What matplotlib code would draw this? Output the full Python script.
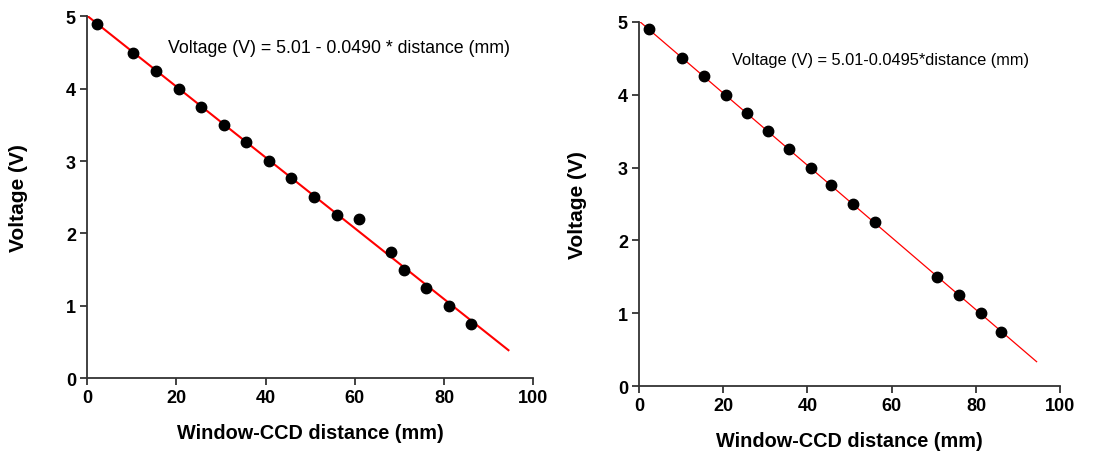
import matplotlib.pyplot as plt
import numpy as np

plt.rcParams['font.family'] = ['Liberation Sans', 'DejaVu Sans']

# Data
dist_a = [2.3, 10.2, 15.4, 20.6, 25.6, 30.6, 35.5, 40.8, 45.6, 50.8, 56.0, 61.0, 68.1, 70.9, 75.9, 81.1, 85.9]
volt_a = [4.90, 4.50, 4.25, 3.99, 3.75, 3.50, 3.26, 3.00, 2.76, 2.50, 2.25, 2.20, 1.74, 1.50, 1.25, 1.00, 0.75]

dist_b = [2.4, 10.2, 15.4, 20.6, 25.6, 30.6, 35.5, 40.8, 45.6, 50.8, 56.1, 70.8, 76.0, 81.2, 85.9]
volt_b = [4.90, 4.50, 4.25, 3.99, 3.75, 3.50, 3.26, 3.00, 2.76, 2.50, 2.25, 1.50, 1.25, 1.00, 0.75]

# fit lines
fit_a = (5.01, 0.0490)
fit_b = (5.01, 0.0495)
fit_end = 94.4

fig = plt.figure(figsize=(11.16, 4.52), dpi=100)
ax1 = fig.add_axes([0.078, 0.1615, 0.400, 0.800])
ax2 = fig.add_axes([0.5726, 0.1432, 0.3774, 0.8066])

def setup(ax, dist, volt, fit, text, lw, tx, ty, tsize, ypad):
    xf = np.array([0, fit_end])
    ax.plot(xf, fit[0] - fit[1]*xf, color='red', linewidth=lw, zorder=2)
    ax.plot(dist, volt, 'o', color='black', markersize=7.5, zorder=3)
    ax.set_xlim(0, 100)
    ax.set_ylim(0, 5)
    ax.set_xticks([0, 20, 40, 60, 80, 100])
    ax.set_yticks([0, 1, 2, 3, 4, 5])
    for s in ['top', 'right']:
        ax.spines[s].set_visible(False)
    for s in ['left', 'bottom']:
        ax.spines[s].set_color('#333333')
        ax.spines[s].set_linewidth(1.3)
    ax.tick_params(direction='out', length=5, width=1.3, color='#333333',
                   labelsize=13, pad=3)
    for lab in ax.get_xticklabels() + ax.get_yticklabels():
        lab.set_fontweight('bold')
    ax.set_xlabel('Window-CCD distance (mm)', fontsize=14.3, fontweight='bold', labelpad=12)
    ax.set_ylabel('Voltage (V)', fontsize=15, fontweight='bold', labelpad=ypad)
    ax.text(tx, ty, text, transform=ax.transAxes, fontsize=tsize, va='center', ha='left')

setup(ax1, dist_a, volt_a, fit_a, 'Voltage (V) = 5.01 - 0.0490 * distance (mm)', 1.5, 0.182, 0.915, 12.8, 27)
setup(ax2, dist_b, volt_b, fit_b, 'Voltage (V) = 5.01-0.0495*distance (mm)', 0.9, 0.221, 0.897, 11.8, 22)

plt.savefig('out.png', dpi=100)
